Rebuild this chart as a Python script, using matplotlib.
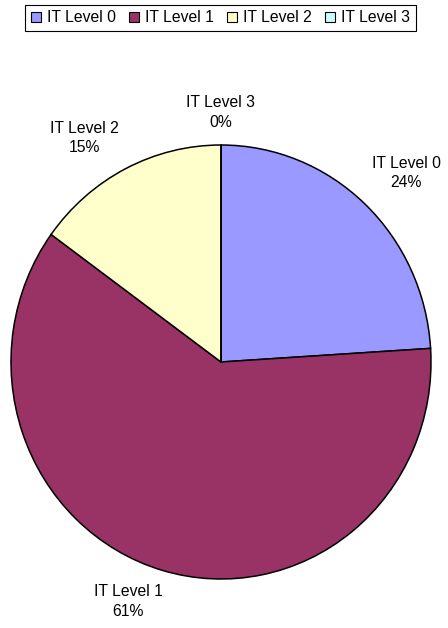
import numpy as np
import matplotlib.pyplot as plt

plt.rcParams['font.family'] = ['Liberation Sans', 'DejaVu Sans']

# data
labels = ['IT Level 0', 'IT Level 1', 'IT Level 2', 'IT Level 3']
shares = [24, 61, 15, 0]
colors = ['#9999FF', '#993366', '#FFFFCC', '#CCFFFF']
# label placement (distance from centre in radii, angular nudge in degrees)
label_dist = [1.24, 1.19, 1.22, 1.15]
label_nudge = [-2.2, -5.6, 5.2, 0.0]

fig = plt.figure(figsize=(4.48, 6.28), dpi=100)
ax = fig.add_axes([11 / 448, 49 / 628, 420 / 448, 434 / 628])

wedges, _ = ax.pie(shares, colors=colors, startangle=90, counterclock=False,
                   wedgeprops=dict(edgecolor='black', linewidth=1.1))
ax.set_aspect('auto')
ax.set_xlim(-1, 1)
ax.set_ylim(-1, 1)

# category + percent labels around the pie
total = sum(shares)
start = 90.0
for lab, val, d, nudge in zip(labels, shares, label_dist, label_nudge):
    sweep = val / total * 360
    mid = np.deg2rad(start - sweep / 2 + nudge)
    start -= sweep
    ax.text(d * np.cos(mid), d * np.sin(mid), f'{lab}\n{val}%',
            ha='center', va='center', fontsize=11.3, linespacing=1.4, clip_on=False)

handles = [plt.Rectangle((0, 0), 1, 1, facecolor=c, edgecolor='black', linewidth=0.8)
           for c in colors]
leg = fig.legend(handles, labels, loc='upper center', bbox_to_anchor=(220.5 / 448, 1 - 5 / 628),
                 ncol=4, fontsize=11.3, handlelength=0.65, handleheight=0.65, handletextpad=0.4,
                 columnspacing=0.8, borderpad=0.35, borderaxespad=0, fancybox=False,
                 framealpha=1, edgecolor='black')
leg.get_frame().set_linewidth(0.8)

plt.savefig('out.png', dpi=100)
